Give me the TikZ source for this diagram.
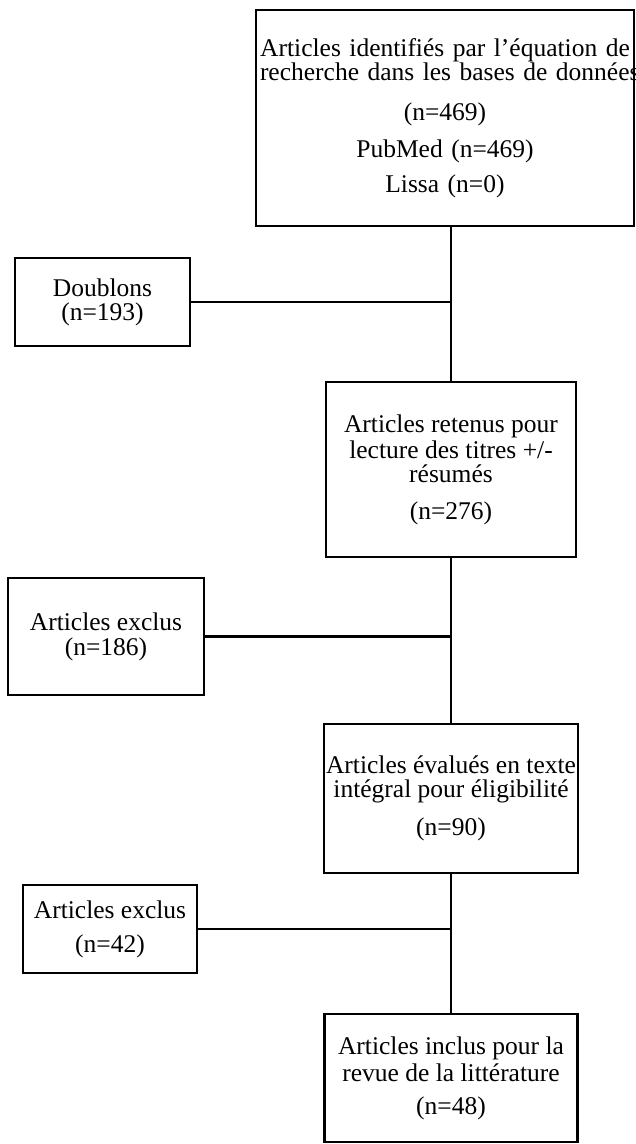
\documentclass[tikz,border=0pt]{standalone}
\usepackage{fontspec}
\setmainfont{Liberation Serif}

\begin{document}
\begin{tikzpicture}[x=1pt,y=-1pt,
  boite/.style={draw,line width=2.8pt,inner sep=0pt,align=center,
    font=\fontsize{25.5}{22}\selectfont},
  lien/.style={line width=2.6pt}]

\useasboundingbox (0,0) rectangle (635,1144);

\node[boite,minimum width=378pt,minimum height=216pt,text width=370pt] (ident) at (445,118)
  {Articles identifiés par l'équation de\\ \mbox{recherche dans les bases de données}\\[18pt]
   (n=469)\\[13pt] PubMed (n=469)\\[11pt] Lissa (n=0)};

\node[boite,minimum width=175pt,minimum height=88pt] (doub) at (102.5,302)
  {Doublons\\[2pt] (n=193)};

\node[boite,minimum width=250pt,minimum height=175pt] (ret) at (451,469.5)
  {Articles retenus pour\\[2pt] lecture des titres +/-\\[2pt] résumés\\[15pt] (n=276)};

\node[boite,minimum width=196pt,minimum height=117pt] (excl1) at (106,636.5)
  {Articles exclus\\[3pt] (n=186)};

\node[boite,minimum width=254pt,minimum height=149pt] (eval) at (451,798.5)
  {Articles évalués en texte\\[2pt] intégral pour éligibilité\\[14pt] (n=90)};

\node[boite,minimum width=174pt,minimum height=88pt] (excl2) at (110,929)
  {Articles exclus\\[12pt] (n=42)};

\node[boite,minimum width=253pt,minimum height=128pt] (incl) at (451,1078)
  {Articles inclus pour la\\[3pt] revue de la littérature\\[11pt] (n=48)};

  \draw[lien] (ident.south -| ret.north) -- (ret.north);
  \draw[lien] (ret.south) -- (eval.north);
  \draw[lien] (eval.south) -- (incl.north);

  \draw[lien] (doub.east) -- (doub.east -| ret.north);
  \draw[lien] (excl1.east) -- (excl1.east -| ret.north);
  \draw[lien] (excl2.east) -- (excl2.east -| eval.north);

\end{tikzpicture}
\end{document}
